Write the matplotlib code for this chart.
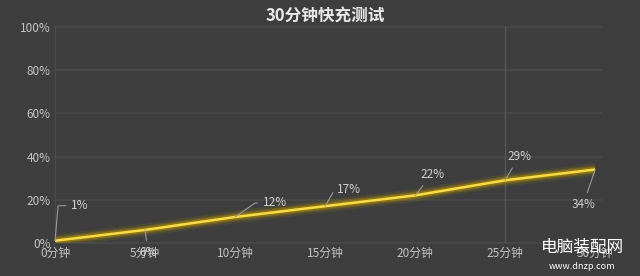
#30分钟快充测试

#import the libraries
import numpy as np
import matplotlib.pyplot as plt

plt.rcParams['font.family'] = ['Noto Sans CJK SC', 'DejaVu Sans']

#data
minutes = [0, 5, 10, 15, 20, 25, 30]
charge = [1, 6, 12, 17, 22, 29, 34]
x_labels = ["0分钟", "5分钟", "10分钟", "15分钟", "20分钟", "25分钟", "30分钟"]
y_ticks = [0, 20, 40, 60, 80, 100]
#label offsets in pixels (dx, dy) and leader angle at the point (None = straight)
offsets = [(25, 35), (3, -23), (40, 14), (24, 17), (17, 21), (14, 24), (-12, -35)]
angles = [85, None, 35, 60, None, None, None]

bg = "#3e3e3e"
fig = plt.figure(figsize=(6.4, 2.76), dpi=100, facecolor=bg)
ax = fig.add_axes([0.086, 0.12, 0.844, 0.782], facecolor=bg)

#grid
for v in y_ticks:
    ax.axhline(v, color="#4b4b4b", lw=1.2, zorder=0, xmax=1.01, clip_on=False)
ax.axvline(25, color="#575757", lw=1, zorder=0)

#glowing line
for lw, a in [(9, 0.12), (6, 0.25), (4, 0.45)]:
    ax.plot(minutes, charge, color="#b89400", lw=lw, alpha=a, solid_capstyle="round", zorder=2)
ax.plot(minutes, charge, color="#f7dc4a", lw=1.8, zorder=3)

#labels with leader lines
for x, y, (dx, dy), ang in zip(minutes, charge, offsets, angles):
    cs = "arc3" if ang is None else f"angle,angleA=0,angleB={ang},rad=0"
    ax.annotate(f"{y}%", xy=(x, y), xytext=(dx * 0.72, dy * 0.72), textcoords="offset points",
                ha="center", va="center", color="#d0d0d0", fontsize=8.5,
                arrowprops=dict(arrowstyle="-", color="#9a9a9a", lw=0.8, shrinkA=2, shrinkB=0,
                                connectionstyle=cs),
                zorder=4)

ax.set_xlim(0, 30)
ax.set_ylim(0, 100)
ax.set_xticks(minutes)
ax.set_xticklabels(x_labels)
ax.set_yticks(y_ticks)
ax.set_yticklabels([f"{v}%" for v in y_ticks])
ax.tick_params(colors="#c4c4c4", labelsize=8.5, length=0, pad=3)
for s in ["top", "right", "bottom"]:
    ax.spines[s].set_visible(False)
ax.spines["left"].set_color("#4b4b4b")

fig.text(0.508, 0.945, "30分钟快充测试", ha="center", va="center", color="#e8e8e8",
         fontsize=12, fontweight="bold")

#watermark
fig.text(0.91, 0.105, "电脑装配网", ha="center", va="center", color="white", fontsize=12)
fig.text(0.91, 0.035, "www.dnzp.com", ha="center", va="center", color="white", fontsize=6.5)

plt.savefig("out.png", dpi=100, facecolor=bg)
